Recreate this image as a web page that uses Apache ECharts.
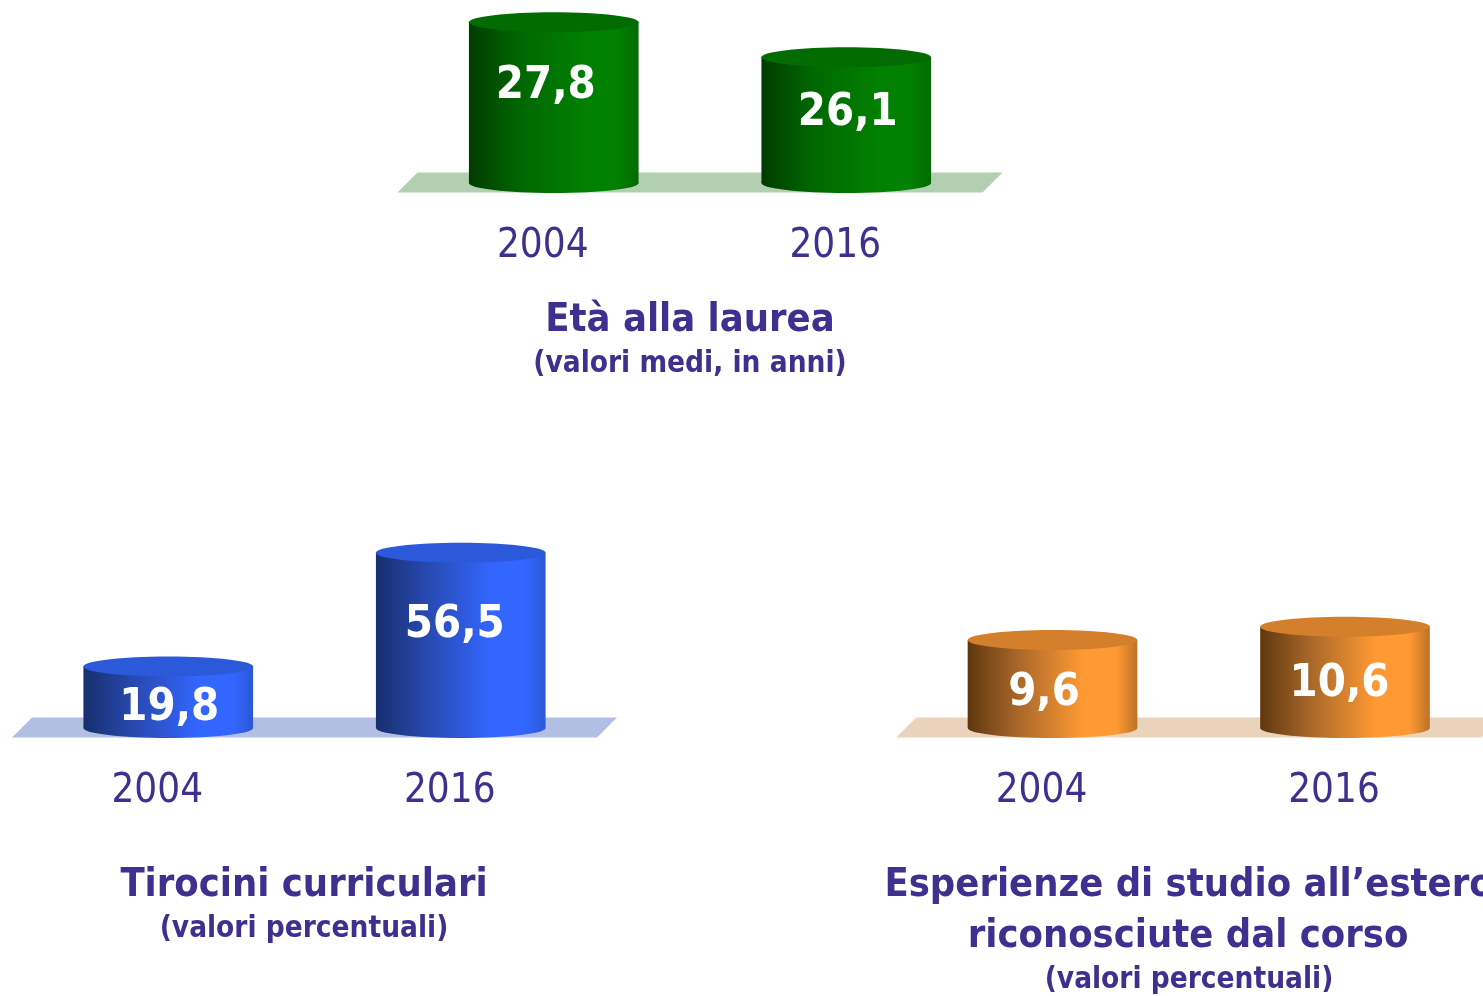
<!DOCTYPE html>
<html>
<head>
<meta charset="utf-8">
<title>Età alla laurea, tirocini, esperienze all'estero</title>
<script src="https://cdn.jsdelivr.net/npm/echarts@6/dist/echarts.min.js"></script>
<style>
  html, body { margin: 0; padding: 0; background: #fff; overflow: hidden; }
  #chart { width: 1483px; height: 996px; }
</style>
</head>
<body>
<div id="chart"></div>
<script>
var years = ['2004', '2016'];
var etaValues = [27.8, 26.1];
var tirociniValues = [19.8, 56.5];
var esteroValues = [9.6, 10.6];

var FONT = '"DejaVu Sans Condensed", "DejaVu Sans", sans-serif';
var TEXT_COLOR = '#3f2f8f';

function sideGradient(c) {
	return new echarts.graphic.LinearGradient(0, 0, 1, 0, [
		{offset: 0, color: c[0]},
		{offset: 0.3, color: c[1]},
		{offset: 0.68, color: c[2]},
		{offset: 0.88, color: c[2]},
		{offset: 1, color: c[3]}
	]);
}

// panel layout and colours
var panels = [{
	values: etaValues,
	min: 20, max: 28,
	grid: {left: 407.5, top: 18, width: 585, height: 165, outerBoundsMode: 'none'},
	side: ['#013c01', '#016701', '#018001', '#016b01'],
	cap: '#026c02',
	floor: '#b2cfb2',
	labelShift: [[-8, 64], [1.5, 56]]
}, {
	values: tirociniValues,
	min: 0, max: 60,
	grid: {left: 22, top: 542, width: 585, height: 186, outerBoundsMode: 'none'},
	side: ['#172f6e', '#2849b0', '#3366ff', '#2b58d6'],
	cap: '#2c59da',
	floor: '#b3bfe2',
	labelShift: [[1, 41.5], [-6, 72]]
}, {
	values: esteroValues,
	min: 3, max: 12,
	grid: {left: 906.25, top: 608, width: 585, height: 120, outerBoundsMode: 'none'},
	side: ['#5f370e', '#a9682a', '#ff9933', '#bb7226'],
	cap: '#d47f2b',
	floor: '#ebd3bb',
	labelShift: [[-8.5, 53], [-5.5, 58]]
}];

function renderFloor(panel) {
	return function (params, api) {
		var g = panel.grid;
		var base = g.top + g.height;
		return {
			type: 'polygon',
			shape: {points: [
				[g.left - 10, base + 9.5],
				[g.left + g.width - 10, base + 9.5],
				[g.left + g.width + 10, base - 10.5],
				[g.left + 10, base - 10.5]
			]},
			style: {fill: panel.floor}
		};
	};
}

function renderCylinder(panel) {
	return function (params, api) {
		var i = params.dataIndex;
		var top = api.coord([api.value(0), api.value(1)]);
		var cx = top[0];
		var baseY = panel.grid.top + panel.grid.height;
		var rx = api.size([1, 0])[0] * 0.29;
		var ry = 10;
		var fill = sideGradient(panel.side);
		var shift = panel.labelShift[i];
		return {
			type: 'group',
			children: [{
				type: 'ellipse',
				shape: {cx: cx, cy: baseY, rx: rx, ry: ry},
				style: {fill: fill}
			}, {
				type: 'rect',
				shape: {x: cx - rx, y: top[1], width: rx * 2, height: baseY - top[1]},
				style: {fill: fill}
			}, {
				type: 'ellipse',
				shape: {cx: cx, cy: top[1], rx: rx, ry: ry},
				style: {fill: panel.cap}
			}, {
				type: 'text',
				x: cx + shift[0],
				y: top[1] + shift[1],
				style: {
					text: api.value(1).toFixed(1).replace('.', ','),
					fill: '#fff',
					font: 'bold 45px ' + FONT,
					align: 'center',
					verticalAlign: 'middle'
				}
			}]
		};
	};
}

function titleItem(text, x, y, size) {
	return {
		text: text,
		left: x,
		top: y,
		textAlign: 'center',
		padding: 0,
		textStyle: {
			color: TEXT_COLOR,
			fontFamily: FONT,
			fontWeight: 'bold',
			fontSize: size,
			lineHeight: size + 4
		}
	};
}

var grids = [], xAxes = [], yAxes = [], series = [];
panels.forEach(function (panel, n) {
	grids.push(panel.grid);
	xAxes.push({
		type: 'category',
		gridIndex: n,
		data: years,
		axisLine: {show: false},
		axisTick: {show: false},
		axisLabel: {
			margin: 44,
			padding: [0, 22, 0, 0],
			color: TEXT_COLOR,
			fontFamily: FONT,
			fontSize: 40
		}
	});
	yAxes.push({
		type: 'value',
		gridIndex: n,
		min: panel.min,
		max: panel.max,
		show: false
	});
	series.push({
		type: 'custom',
		coordinateSystem: 'cartesian2d',
		xAxisIndex: n,
		yAxisIndex: n,
		z: 1,
		silent: true,
		clip: false,
		renderItem: renderFloor(panel),
		data: [panel.values[0]]
	});
	series.push({
		type: 'custom',
		coordinateSystem: 'cartesian2d',
		xAxisIndex: n,
		yAxisIndex: n,
		z: 2,
		silent: true,
		clip: false,
		renderItem: renderCylinder(panel),
		encode: {x: 0, y: 1},
		data: panel.values.map(function (v, i) { return [i, v]; })
	});
});

var option = {
	backgroundColor: '#fff',
	animation: false,
	title: [
		titleItem('Età alla laurea', 690, 299, 39.5),
		titleItem('(valori medi, in anni)', 690, 347.5, 29.5),
		titleItem('Tirocini curriculari', 304, 864, 39.5),
		titleItem('(valori percentuali)', 304, 912.5, 29.5),
		titleItem('Esperienze di studio all\u2019estero', 1189, 864, 39.5),
		titleItem('riconosciute dal corso', 1188, 915, 39.5),
		titleItem('(valori percentuali)', 1189, 963.5, 29.5)
	],
	grid: grids,
	xAxis: xAxes,
	yAxis: yAxes,
	series: series
};

var chart = echarts.init(document.getElementById('chart'));
chart.setOption(option);
</script>
</body>
</html>
